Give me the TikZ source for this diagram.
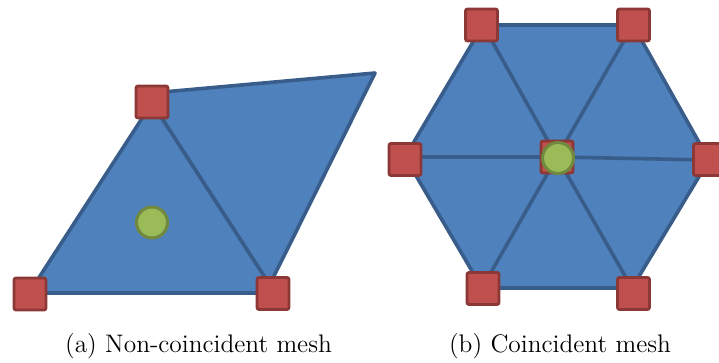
\documentclass[tikz,border=0pt]{standalone}
\begin{document}
\begin{tikzpicture}[x=0.5pt,y=-0.5pt,
  meshfill/.style={fill=meshblue,draw=meshedge,line width=1.8pt,line join=round},
  meshline/.style={draw=meshedge,line width=1.8pt,line cap=round},
  nodebox/.style={rectangle,minimum size=16pt,inner sep=0pt,fill=nodered,draw=nodeedge,line width=1.4pt,rounded corners=1pt},
  probe/.style={circle,minimum size=15.5pt,inner sep=0pt,fill=probegreen,draw=probeedge,line width=1.5pt},
  caption/.style={anchor=base,inner sep=0pt,font=\fontsize{12.7pt}{15pt}\selectfont}]
\definecolor{meshblue}{HTML}{4F81BD}
\definecolor{meshedge}{HTML}{385D8A}
\definecolor{nodered}{HTML}{C0504D}
\definecolor{nodeedge}{HTML}{8C3836}
\definecolor{probegreen}{HTML}{9BBB59}
\definecolor{probeedge}{HTML}{71893F}
\useasboundingbox (0,0) rectangle (719,363);

% ---- (a) two neighbouring elements, probe point off the nodes
\coordinate (a1) at (29,293);
\coordinate (a2) at (152,103);
\coordinate (a3) at (275,293);
\coordinate (b1) at (152,93);
\coordinate (b2) at (375,73);
\coordinate (b3) at (269.5,285);
\path[meshfill] (a2) -- (b1) -- (b2) -- (b3) -- cycle;
\path[meshfill] (a1) -- (a2) -- (a3) -- cycle;

\node[nodebox] (na1) at (30,294) {};
\node[nodebox] (na2) at (152,102) {};
\node[nodebox] (na3) at (273,293.5) {};
\node[probe] (pa) at (152,222.5) {};

% ---- (b) hexagonal patch of six triangles around a shared node
\coordinate (o) at (557,157);
\coordinate (h1) at (483,25);
\coordinate (h2) at (633,25);
\coordinate (h3) at (709,160);
\coordinate (h4) at (632,288);
\coordinate (h5) at (482,288);
\coordinate (h6) at (405,157);
\path[meshfill] (h1) -- (h2) -- (h3) -- (h4) -- (h5) -- (h6) -- cycle;
\foreach \v in {h1,h2,h3,h4,h5,h6}
  \draw[meshline] (o) -- (\v);

\node[nodebox] (nb1) at (481.5,25) {};
\node[nodebox] (nb2) at (633.5,25) {};
\node[nodebox] (nb3) at (709.5,159.5) {};
\node[nodebox] (nb4) at (633.5,293.5) {};
\node[nodebox] (nb5) at (483,288.5) {};
\node[nodebox] (nb6) at (405,159.5) {};
\node[nodebox] (nbo) at (557,157) {};
\node[probe] (pb) at (558,158) {};

% ---- captions
\node[caption] (capa) at (198.5,353) {(a) Non-coincident mesh};
\node[caption] (capb) at (560,353) {(b) Coincident mesh};
\end{tikzpicture}
\end{document}
